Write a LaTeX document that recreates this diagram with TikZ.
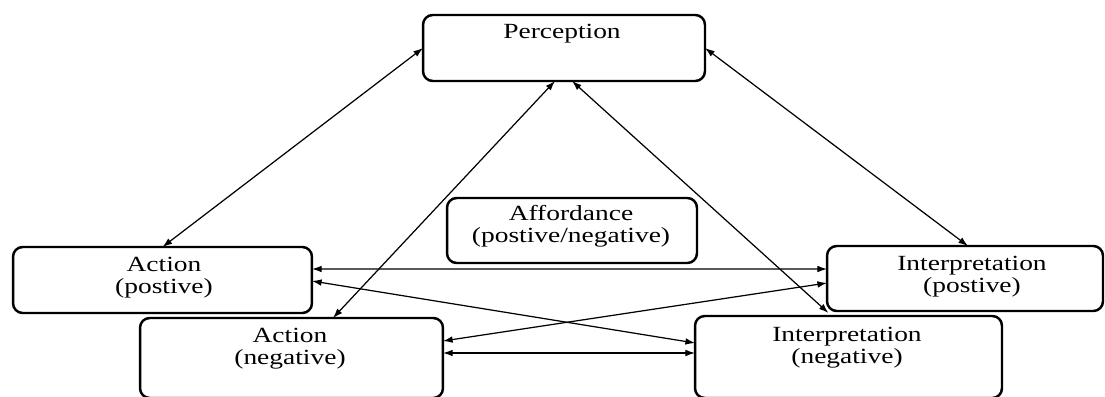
\documentclass[tikz,border=0pt]{standalone}
\usepackage{graphicx}
\usepackage{fontspec}
\setmainfont{Liberation Serif}
\usetikzlibrary{arrows.meta,calc}

\newcommand{\widetext}[1]{\scalebox{1.27}[1]{\begin{tabular}{@{}c@{}}#1\end{tabular}}}

\begin{document}
\begin{tikzpicture}[x=0.02cm, y=0.02cm,
    box/.style={draw, line width=1.4pt, rounded corners=5.5pt, inner sep=0pt, outer sep=0pt},
    txt/.style={inner sep=0pt, font=\fontsize{12.3}{12.6}\selectfont},
    link/.style={{Latex[length=5.5pt,width=3.8pt]}-{Latex[length=5.5pt,width=3.8pt]}, line width=0.7pt}]
    \useasboundingbox (0,0) rectangle (1105,396);

    \node[box, minimum width=5.64cm, minimum height=1.32cm](perc) at (564,348){};
    \node[box, minimum width=5.0cm, minimum height=1.3cm](afford) at (572,165.5){};
    \node[box, minimum width=5.98cm, minimum height=1.32cm](apos) at (162.5,116){};
    \node[box, minimum width=6.06cm, minimum height=1.6cm](aneg) at (291.5,38){};
    \node[box, minimum width=5.52cm, minimum height=1.3cm](ipos) at (965,117.5){};
    \node[box, minimum width=6.14cm, minimum height=1.64cm](ineg) at (848.5,39){};

    \node[txt](perc-txt) at (562,362){\widetext{Perception}};
    \node[txt](afford-txt) at (571,169){\widetext{Affordance\\(postive/negative)}};
    \node[txt](apos-txt) at (164,118){\widetext{Action\\(postive)}};
    \node[txt](aneg-txt) at (290,46.5){\widetext{Action\\(negative)}};
    \node[txt](ipos-txt) at (972,118.5){\widetext{Interpretation\\(postive)}};
    \node[txt](ineg-txt) at (847,48){\widetext{Interpretation\\(negative)}};

    \draw[link](perc.west)--(apos.north);
    \draw[link](perc.east)--($(ipos.north)+(3,0)$);
    \draw[link]($(perc.south)+(-9,0)$)--($(aneg.north)+(41.5,0)$);
    \draw[link]($(perc.south)+(8,0)$)--($(ineg.north)+(-20,3)$);

    \draw[link]($(apos.east)+(0,11)$)--($(ipos.west)+(0,9.5)$);
    \draw[link]($(apos.east)+(0,-1)$)--($(ineg.west)+(0,14)$);
    \draw[link]($(aneg.east)+(0,17)$)--($(ipos.west)+(0,-4.5)$);
    \draw[link]($(aneg.east)+(0,5)$)--($(ineg.west)+(0,4)$);
\end{tikzpicture}
\end{document}
